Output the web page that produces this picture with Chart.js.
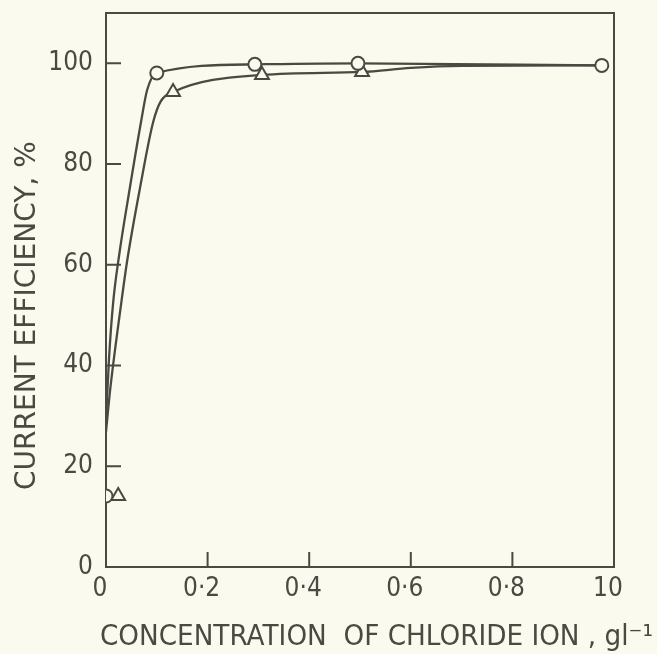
<!DOCTYPE html>
<html>
<head>
<meta charset="utf-8">
<script src="https://cdn.jsdelivr.net/npm/chart.js@4/dist/chart.umd.min.js"></script>
<style>
  html, body { margin: 0; padding: 0; background: #fbfaee; }
  #chart { display: block; }
</style>
</head>
<body>
<canvas id="chart" width="657" height="654"></canvas>
<script>
// axis ticks
const xTickValues = [0, 0.2, 0.4, 0.6, 0.8, 1.0];
const xTickLabels = ['0', '0·2', '0·4', '0·6', '0·8', '10'];
const yTickValues = [0, 20, 40, 60, 80, 100];

const xTitle = 'CONCENTRATION  OF CHLORIDE ION , gl⁻¹';
const yTitle = 'CURRENT EFFICIENCY, %';

// measured points (circles and triangles)
const circleX = [0, 0.100, 0.293, 0.496, 0.976];
const circleY = [14.1, 98.1, 99.8, 100.0, 99.6];
const triangleX = [0.024, 0.132, 0.307, 0.504];
const triangleY = [14.1, 94.3, 97.7, 98.3];

// hand-drawn curves
const circleCurveX = [0, 0.006, 0.014, 0.026, 0.047, 0.069, 0.081, 0.100, 0.293, 0.496, 0.976];
const circleCurveY = [29.2, 41.5, 52.4, 62.0, 75.3, 88.4, 94.7, 98.1, 99.8, 100.0, 99.6];
const triangleCurveX = [0, 0.008, 0.030, 0.042, 0.067, 0.093, 0.108, 0.132, 0.307, 0.504, 0.60, 0.70, 0.976];
const triangleCurveY = [26.8, 35.0, 52.4, 61.0, 75.3, 88.4, 92.5, 94.3, 97.7, 98.3, 99.1, 99.5, 99.6];

const ink = '#4a4a42';
const paper = '#fbfaee';

function pairs(xs, ys) {
    return xs.map((x, i) => ({ x: x, y: ys[i] }));
}

// frame, inward tick marks and axis titles
const framePlugin = {
    id: 'frame',
    beforeDatasetsDraw(chart) {
        const { ctx, chartArea } = chart;
        const xs = chart.scales.x;
        const ys = chart.scales.y;
        ctx.save();
        ctx.strokeStyle = ink;
        ctx.lineWidth = 2;
        ctx.strokeRect(chartArea.left, chartArea.top, chartArea.right - chartArea.left, chartArea.bottom - chartArea.top);
        ctx.beginPath();
        yTickValues.slice(1).forEach(v => {
            const py = ys.getPixelForValue(v);
            ctx.moveTo(chartArea.left, py);
            ctx.lineTo(chartArea.left + 15, py);
        });
        xTickValues.slice(1, -1).forEach(v => {
            const px = xs.getPixelForValue(v);
            ctx.moveTo(px, chartArea.bottom);
            ctx.lineTo(px, chartArea.bottom - 15);
        });
        ctx.stroke();

        ctx.fillStyle = ink;
        ctx.font = '28px "DejaVu Sans"';
        ctx.textAlign = 'left';
        ctx.textBaseline = 'alphabetic';

        // x title, squeezed to the width it has in the original
        ctx.save();
        const w = ctx.measureText(xTitle).width;
        const s = Math.min(1, 553 / w);
        ctx.translate(chartArea.left - 6, 645);
        ctx.scale(s, 1);
        ctx.fillText(xTitle, 0, 0);
        ctx.restore();

        ctx.translate(35, 490);
        ctx.rotate(-Math.PI / 2);
        ctx.fillText(yTitle, 0, 0);
        ctx.restore();
    }
};

new Chart(document.getElementById('chart'), {
    type: 'scatter',
    data: {
        datasets: [
            {
                data: pairs(circleX, circleY),
                pointStyle: 'circle',
                pointRadius: 6.5,
                pointBorderWidth: 2,
                pointBorderColor: ink,
                pointBackgroundColor: paper,
                order: 0
            },
            {
                data: pairs(triangleX, triangleY),
                pointStyle: 'triangle',
                pointRadius: 8,
                pointBorderWidth: 2,
                pointBorderColor: ink,
                pointBackgroundColor: paper,
                order: 0
            },
            {
                data: pairs(circleCurveX, circleCurveY),
                showLine: true,
                borderColor: ink,
                borderWidth: 2.3,
                pointRadius: 0,
                cubicInterpolationMode: 'monotone',
                order: 1
            },
            {
                data: pairs(triangleCurveX, triangleCurveY),
                showLine: true,
                borderColor: ink,
                borderWidth: 2.3,
                pointRadius: 0,
                cubicInterpolationMode: 'monotone',
                order: 1
            }
        ]
    },
    options: {
        responsive: false,
        animation: false,
        layout: { padding: { top: 13, right: 43, left: 0, bottom: 0 } },
        plugins: {
            legend: { display: false },
            tooltip: { enabled: false }
        },
        scales: {
            x: {
                type: 'linear',
                min: 0,
                max: 1,
                afterBuildTicks: scale => { scale.ticks = xTickValues.map(v => ({ value: v })); },
                afterFit: scale => {
                    scale.height = 87;
                    scale.paddingLeft = 0;
                    scale.paddingRight = 0;
                },
                grid: { display: false, drawTicks: false },
                border: { display: false },
                ticks: {
                    callback: (v, i) => xTickLabels[i],
                    color: ink,
                    padding: 7,
                    labelOffset: -6,
                    maxRotation: 0,
                    font: { family: '"DejaVu Sans Condensed", "Liberation Sans", sans-serif', size: 26 }
                }
            },
            y: {
                type: 'linear',
                min: 0,
                max: 110,
                afterBuildTicks: scale => { scale.ticks = yTickValues.map(v => ({ value: v })); },
                afterFit: scale => {
                    scale.width = 106;
                    scale.paddingTop = 0;
                    scale.paddingBottom = 0;
                },
                grid: { display: false, drawTicks: false },
                border: { display: false },
                ticks: {
                    color: ink,
                    padding: 13,
                    font: { family: '"DejaVu Sans Condensed", "Liberation Sans", sans-serif', size: 26 }
                }
            }
        }
    },
    plugins: [framePlugin]
});
</script>
</body>
</html>
